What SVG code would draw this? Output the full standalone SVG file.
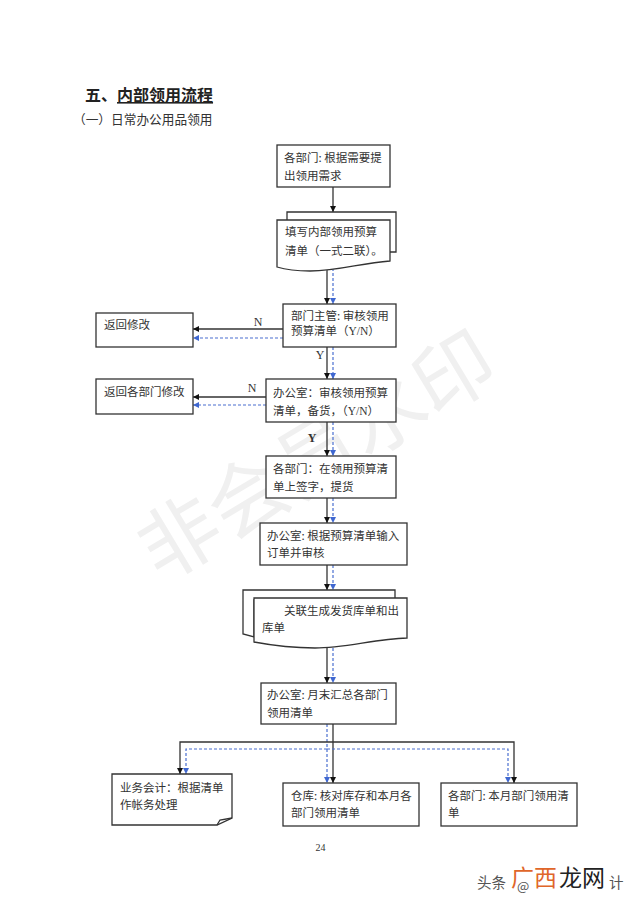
<svg xmlns="http://www.w3.org/2000/svg" width="640" height="906" viewBox="0 0 640 906">
<style>
text{font-family:"Noto Sans CJK SC","Liberation Sans",sans-serif;font-size:11.5px;fill:#333}
.s{font-family:"Liberation Serif","Noto Sans CJK SC",serif}
.l{font-family:"Liberation Serif",serif;font-size:12px;text-anchor:middle}
.b{fill:#fff;stroke:#333;stroke-width:1.3}
.k{fill:none;stroke:#333;stroke-width:1.3}
.d{fill:none;stroke:#4a6fd0;stroke-width:1.2;stroke-dasharray:3 2}
</style>
<defs>
<marker id="ak" markerUnits="userSpaceOnUse" markerWidth="7" markerHeight="7" refX="6" refY="3" orient="auto"><path d="M0 0L6 3L0 6Z" fill="#111"/></marker>
<marker id="ab" markerUnits="userSpaceOnUse" markerWidth="7" markerHeight="7" refX="6" refY="3" orient="auto"><path d="M0 0L6 3L0 6Z" fill="#3f67d0"/></marker>
</defs>
<rect width="640" height="906" fill="#fff"/>
<text x="0" y="0" transform="translate(160 583) rotate(-31)" style="font-size:80px;fill:#f0f0f0">非会员水印</text>
<text x="85" y="101" style="font-size:16px;font-weight:700;fill:#222;font-family:'Noto Sans CJK SC',serif">五、<tspan text-decoration="underline">内部领用流程</tspan></text>
<text x="73" y="124" style="font-size:12.7px">（一）日常办公用品领用</text>
<g id="connectors">
<path class="k" d="M333 187V212" marker-end="url(#ak)"/>
<path class="k" d="M327 268V304" marker-end="url(#ak)"/>
<path class="d" d="M333 268V304" marker-end="url(#ab)"/>
<path class="k" d="M283 329H193" marker-end="url(#ak)"/>
<path class="d" d="M283 338H193" marker-end="url(#ab)"/>
<path class="k" d="M327 347V379" marker-end="url(#ak)"/>
<path class="d" d="M333 347V379" marker-end="url(#ab)"/>
<path class="k" d="M266 397H193" marker-end="url(#ak)"/>
<path class="d" d="M266 405H193" marker-end="url(#ab)"/>
<path class="k" d="M327 422V456" marker-end="url(#ak)"/>
<path class="d" d="M333 422V456" marker-end="url(#ab)"/>
<path class="k" d="M327 498V523" marker-end="url(#ak)"/>
<path class="d" d="M333 498V523" marker-end="url(#ab)"/>
<path class="k" d="M327 565V590" marker-end="url(#ak)"/>
<path class="d" d="M333 565V590" marker-end="url(#ab)"/>
<path class="k" d="M327 648V683" marker-end="url(#ak)"/>
<path class="d" d="M333 648V683" marker-end="url(#ab)"/>
<path class="k" d="M333 724V783" marker-end="url(#ak)"/>
<path class="d" d="M327 724V783" marker-end="url(#ab)"/>
<path class="k" d="M333 742H180V774" marker-end="url(#ak)"/>
<path class="k" d="M333 742H514V783" marker-end="url(#ak)"/>
<path class="d" d="M327 749H186V774" marker-end="url(#ab)"/>
<path class="d" d="M327 749H508V783" marker-end="url(#ab)"/>
</g>
<g id="n1"><rect class="b" x="277" y="145" width="113" height="42"/><text x="284" y="162">各部门:<tspan dx="2.5">根据需要提</tspan></text><text x="284" y="180">出领用需求</text></g>
<g id="n2"><path class="b" d="M287 230V212H396V252H380V230Z"/><path class="b" d="M277 220H390V261C360 263 340 271 310 271C297 271 287 270 277 267Z"/><text x="285" y="236">填写内部领用预算</text><text x="285" y="255">清单（一式二联）。</text></g>
<g id="n3"><rect class="b" x="283" y="304" width="113" height="43"/><text x="291" y="320">部门主管:<tspan dx="2.5">审核领用</tspan></text><text x="291" y="335">预算清单（<tspan class="s">Y/N</tspan>）</text></g>
<g id="n4"><rect class="b" x="96" y="313" width="97" height="34"/><text x="104" y="329">返回修改</text></g>
<g id="n5"><rect class="b" x="266" y="379" width="130" height="43"/><text x="273" y="397">办公室：审核领用预算</text><text x="273" y="415">清单，备货，（<tspan class="s">Y/N</tspan>）</text></g>
<g id="n6"><rect class="b" x="96" y="379" width="97" height="35"/><text x="104" y="396">返回各部门修改</text></g>
<g id="n7"><rect class="b" x="266" y="456" width="130" height="42"/><text x="273" y="473">各部门：在领用预算清</text><text x="273" y="491">单上签字，提货</text></g>
<g id="n8"><rect class="b" x="260" y="523" width="147" height="42"/><text x="267" y="540">办公室:<tspan dx="2.5">根据预算清单输入</tspan></text><text x="267" y="557">订单并审核</text></g>
<g id="n9"><path class="b" d="M243 590H395V600H254V637L243 634Z"/><path class="b" d="M254 598H407V638C375 639 345 648 315 648C290 648 270 645 254 642Z"/><text x="284" y="615">关联生成发货库单和出</text><text x="262" y="632">库单</text></g>
<g id="n10"><rect class="b" x="261" y="683" width="135" height="41"/><text x="267" y="699">办公室:<tspan dx="2.5">月末汇总各部门</tspan></text><text x="267" y="717">领用清单</text></g>
<g id="n11"><path class="b" d="M112 774H232V818L217 825H112Z"/><path class="k" d="M217 825L220 820L232 818" stroke-width="1"/><text x="120" y="792">业务会计：根据清单</text><text x="120" y="809">作帐务处理</text></g>
<g id="n12"><rect class="b" x="283" y="783" width="136" height="43"/><text x="291" y="800">仓库:<tspan dx="2.5">核对库存和本月各</tspan></text><text x="291" y="817">部门领用清单</text></g>
<g id="n13"><rect class="b" x="441" y="783" width="136" height="43"/><text x="448" y="800">各部门:<tspan dx="2.5">本月部门领用清</tspan></text><text x="448" y="817">单</text></g>
<g id="labels">
<text class="l" x="258" y="326">N</text>
<text class="l" x="320" y="359">Y</text>
<text class="l" x="252" y="392">N</text>
<text class="l" x="312" y="442" style="font-weight:700">Y</text>
<text x="320.5" y="851" style="font-family:'Liberation Serif',serif;font-size:10px;text-anchor:middle">24</text>
</g>
<g id="logo">
<text x="477" y="888" style="font-size:14.5px;fill:#555">头条</text>
<text x="517" y="891" style="font-size:13px;fill:#555">@</text>
<text x="511" y="886" style="font-size:23px;fill:#e0662a">广西</text>
<text x="559" y="886" style="font-size:23px;fill:#222">龙网</text>
<text x="609" y="888" style="font-size:14.5px;fill:#555">计</text>
</g>
</svg>
